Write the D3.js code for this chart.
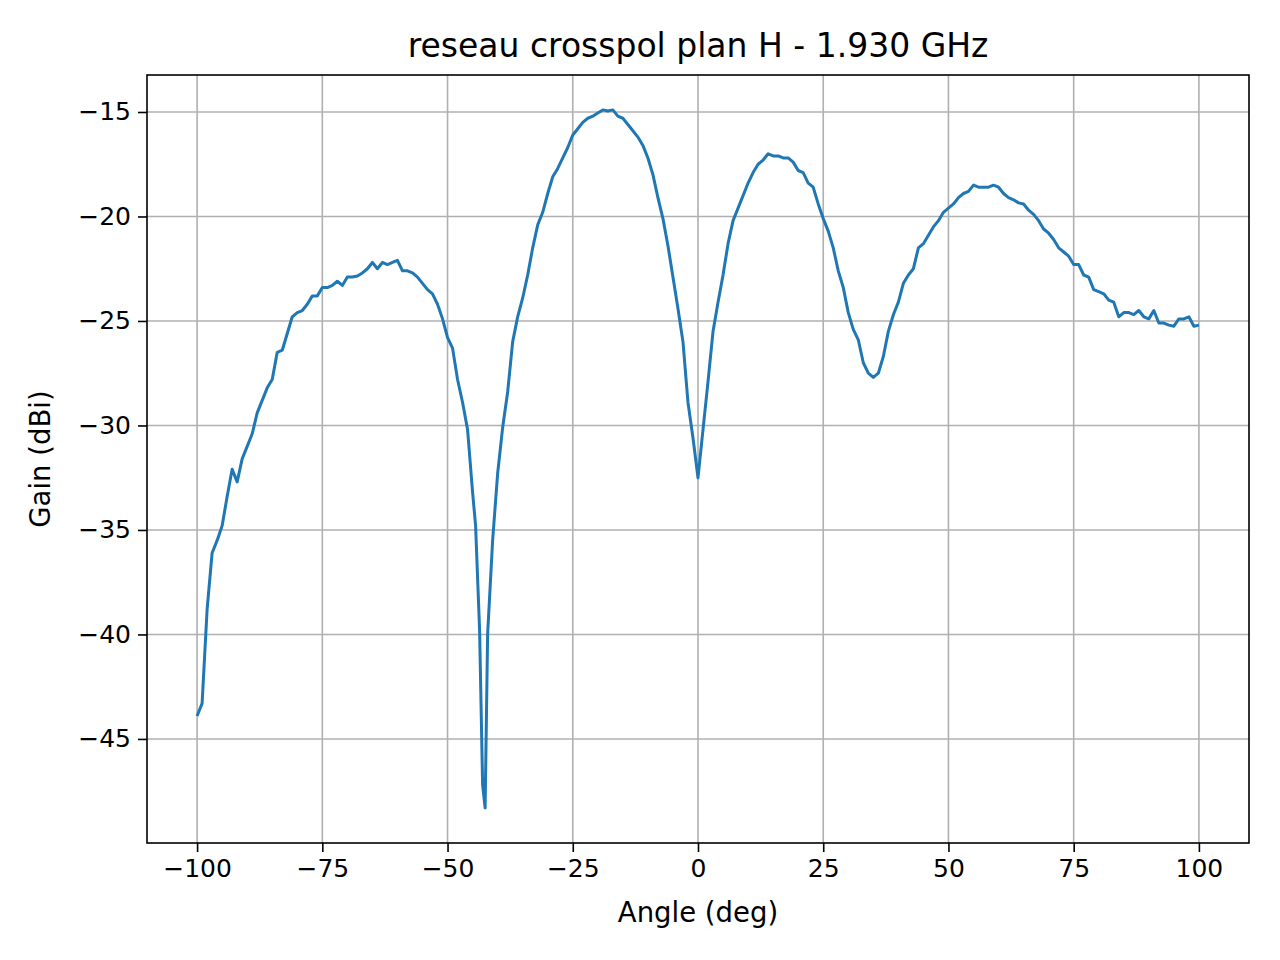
<!DOCTYPE html>
<html><head><meta charset="utf-8">
<script src="https://cdn.jsdelivr.net/npm/d3@7"></script>
<style>body{margin:0;background:#fff}svg{font-family:"DejaVu Sans",sans-serif}</style>
</head><body><svg id="c" width="1280" height="960"></svg>
<script>
const angles = [-100,-99,-98,-97,-96,-95,-94,-93,-92,-91,-90,-89,-88,-87,-86,-85,-84,-83,-82,-81,-80,-79,-78,-77,-76,-75,-74,-73,-72,-71,-70,-69,-68,-67,-66,-65,-64,-63,-62,-61,-60,-59,-58,-57,-56,-55,-54,-53,-52,-51,-50,-49,-48,-47,-46,-45,-44.4,-43.6,-43,-42.5,-42,-41,-40,-39,-38,-37,-36,-35,-34,-33,-32,-31,-30,-29,-28,-27,-26,-25,-24,-23,-22,-21,-20,-19,-18,-17,-16,-15,-14,-13,-12,-11,-10,-9,-8,-7,-6,-5,-4,-3,-2,-1,0,1,2,3,4,5,6,7,8,9,10,11,12,13,14,15,16,17,18,19,20,21,22,23,24,25,26,27,28,29,30,31,32,33,34,35,36,37,38,39,40,41,42,43,44,45,46,47,48,49,50,51,52,53,54,55,56,57,58,59,60,61,62,63,64,65,66,67,68,69,70,71,72,73,74,75,76,77,78,79,80,81,82,83,84,85,86,87,88,89,90,91,92,93,94,95,96,97,98,99,100];
const gain = [-43.9,-43.3,-38.8,-36.1,-35.5,-34.8,-33.4,-32.1,-32.7,-31.6,-31.0,-30.4,-29.4,-28.8,-28.2,-27.8,-26.5,-26.4,-25.6,-24.8,-24.6,-24.5,-24.2,-23.8,-23.8,-23.4,-23.4,-23.3,-23.1,-23.3,-22.9,-22.9,-22.85,-22.7,-22.5,-22.2,-22.5,-22.2,-22.3,-22.2,-22.1,-22.6,-22.6,-22.7,-22.9,-23.2,-23.5,-23.7,-24.2,-24.9,-25.8,-26.3,-27.8,-28.9,-30.2,-33.2,-34.8,-39.8,-47.2,-48.3,-40.0,-35.5,-32.3,-30.1,-28.4,-26.0,-24.8,-23.9,-22.8,-21.5,-20.4,-19.8,-18.9,-18.1,-17.7,-17.2,-16.7,-16.1,-15.8,-15.5,-15.3,-15.2,-15.05,-14.9,-14.95,-14.9,-15.2,-15.3,-15.6,-15.9,-16.2,-16.6,-17.2,-18.0,-19.1,-20.1,-21.4,-22.9,-24.4,-26.0,-28.9,-30.6,-32.5,-30.2,-27.9,-25.5,-24.1,-22.8,-21.3,-20.2,-19.6,-19.0,-18.4,-17.9,-17.5,-17.3,-17.0,-17.1,-17.1,-17.2,-17.2,-17.4,-17.8,-17.9,-18.4,-18.6,-19.4,-20.1,-20.7,-21.5,-22.6,-23.4,-24.6,-25.4,-25.9,-27.0,-27.5,-27.7,-27.5,-26.7,-25.5,-24.7,-24.1,-23.2,-22.8,-22.5,-21.5,-21.3,-20.9,-20.5,-20.2,-19.8,-19.6,-19.4,-19.1,-18.9,-18.8,-18.5,-18.6,-18.6,-18.6,-18.5,-18.6,-18.9,-19.1,-19.2,-19.35,-19.4,-19.7,-19.9,-20.2,-20.6,-20.8,-21.1,-21.5,-21.7,-21.9,-22.3,-22.3,-22.8,-22.9,-23.5,-23.6,-23.7,-24.0,-24.1,-24.8,-24.6,-24.6,-24.7,-24.5,-24.8,-24.9,-24.5,-25.1,-25.1,-25.2,-25.25,-24.9,-24.9,-24.8,-25.25,-25.2];
const xTicks = [-100,-75,-50,-25,0,25,50,75,100];
const yTicks = [-45,-40,-35,-30,-25,-20,-15];
const titleText = "reseau crosspol plan H - 1.930 GHz";

const L=147,R=1249,T=75,B=843;
const svg=d3.select("#c");
const x=d3.scaleLinear().domain([-110,110]).range([L,R]);
const y=d3.scaleLinear().domain([-49.98,-13.23]).range([B,T]);
const g=svg.append("g");
g.selectAll(".gx").data(xTicks).join("line").attr("x1",d=>x(d)).attr("x2",d=>x(d)).attr("y1",T).attr("y2",B).attr("stroke","#b0b0b0").attr("stroke-width",1.6);
g.selectAll(".gy").data(yTicks).join("line").attr("y1",d=>y(d)).attr("y2",d=>y(d)).attr("x1",L).attr("x2",R).attr("stroke","#b0b0b0").attr("stroke-width",1.6);
const fmt=d=>d<0?"\u2212"+Math.abs(d):String(d);
const ax=svg.append("g").attr("transform",`translate(0,${B})`).call(d3.axisBottom(x).tickValues(xTicks).tickFormat(fmt).tickSize(9).tickPadding(7));
const ay=svg.append("g").attr("transform",`translate(${L},0)`).call(d3.axisLeft(y).tickValues(yTicks).tickFormat(fmt).tickSize(9).tickPadding(7));
[ax,ay].forEach(a=>{a.select(".domain").remove();a.selectAll("line").attr("stroke","#000").attr("stroke-width",1.6);a.selectAll("text").attr("font-size",25).attr("fill","#000").attr("font-family","DejaVu Sans");});
svg.append("path").datum(angles.map((a,i)=>[a,gain[i]])).attr("fill","none").attr("stroke","#1f77b4").attr("stroke-width",3).attr("stroke-linejoin","round")
 .attr("d",d3.line().x(d=>x(d[0])).y(d=>y(d[1])));
svg.append("rect").attr("x",L).attr("y",T).attr("width",R-L).attr("height",B-T).attr("fill","none").attr("stroke","#000").attr("stroke-width",1.6);
svg.append("text").attr("x",(L+R)/2).attr("y",57).attr("text-anchor","middle").attr("font-size",33).text(titleText);
svg.append("text").attr("x",(L+R)/2).attr("y",922).attr("text-anchor","middle").attr("font-size",27.5).text("Angle (deg)");
svg.append("text").attr("transform",`translate(50,${(T+B)/2}) rotate(-90)`).attr("text-anchor","middle").attr("font-size",27.5).text("Gain (dBi)");
</script></body></html>
